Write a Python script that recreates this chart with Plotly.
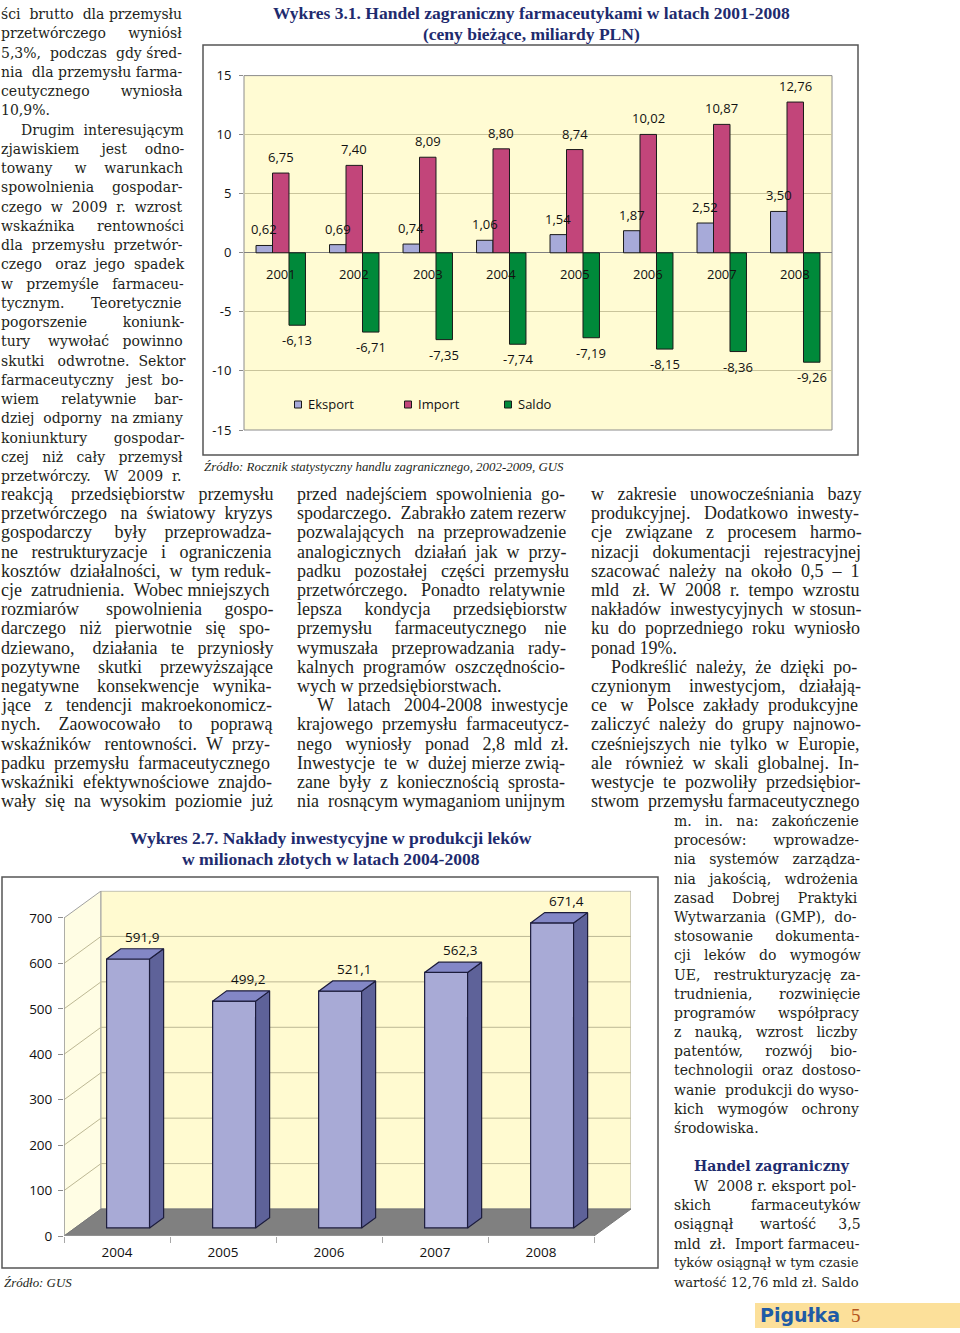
import plotly.graph_objects as go

W, H = 960, 1333


def px(x):
    return x / W


def py(y):
    return 1 - y / H


# --- Wykres 3.1: handel zagraniczny (mld PLN) ---
lata_handel = ["2001", "2002", "2003", "2004", "2005", "2006", "2007", "2008"]
eksport = [0.62, 0.69, 0.74, 1.06, 1.54, 1.87, 2.52, 3.50]
import_ = [6.75, 7.40, 8.09, 8.80, 8.74, 10.02, 10.87, 12.76]
saldo = [-6.13, -6.71, -7.35, -7.74, -7.19, -8.15, -8.36, -9.26]
ticks_handel = [-15, -10, -5, 0, 5, 10, 15]

# --- Wykres 2.7: naklady inwestycyjne (mln zl) ---
lata_inw = ["2004", "2005", "2006", "2007", "2008"]
naklady = [591.9, 499.2, 521.1, 562.3, 671.4]
ticks_inw = [0, 100, 200, 300, 400, 500, 600, 700]

# --- page text ---
blok_a = [
    "ści brutto dla przemysłu", "przetwórczego wyniósł", "5,3%, podczas gdy śred-",
    "nia dla przemysłu farma-", "ceutycznego wyniosła", "10,9%.",
    "Drugim interesującym", "zjawiskiem jest odno-", "towany w warunkach",
    "spowolnienia gospodar-", "czego w 2009 r. wzrost", "wskaźnika rentowności",
    "dla przemysłu przetwór-", "czego oraz jego spadek", "w przemyśle farmaceu-",
    "tycznym. Teoretycznie", "pogorszenie koniunk-", "tury wywołać powinno",
    "skutki odwrotne. Sektor", "farmaceutyczny jest bo-", "wiem relatywnie bar-",
    "dziej odporny na zmiany", "koniunktury gospodar-", "czej niż cały przemysł",
    "przetwórczy. W 2009 r.",
]
blok_b = [
    "reakcją przedsiębiorstw przemysłu", "przetwórczego na światowy kryzys",
    "gospodarczy były przeprowadza-", "ne restrukturyzacje i ograniczenia",
    "kosztów działalności, w tym reduk-", "cje zatrudnienia. Wobec mniejszych",
    "rozmiarów spowolnienia gospo-", "darczego niż pierwotnie się spo-",
    "dziewano, działania te przyniosły", "pozytywne skutki przewyższające",
    "negatywne konsekwencje wynika-", "jące z tendencji makroekonomicz-",
    "nych. Zaowocowało to poprawą", "wskaźników rentowności. W przy-",
    "padku przemysłu farmaceutycznego", "wskaźniki efektywnościowe znajdo-",
    "wały się na wysokim poziomie już",
]
blok_c = [
    "przed nadejściem spowolnienia go-", "spodarczego. Zabrakło zatem rezerw",
    "pozwalających na przeprowadzenie", "analogicznych działań jak w przy-",
    "padku pozostałej części przemysłu", "przetwórczego. Ponadto relatywnie",
    "lepsza kondycja przedsiębiorstw", "przemysłu farmaceutycznego nie",
    "wymuszała przeprowadzania rady-", "kalnych programów oszczędnościo-",
    "wych w przedsiębiorstwach.", "W latach 2004-2008 inwestycje",
    "krajowego przemysłu farmaceutycz-", "nego wyniosły ponad 2,8 mld zł.",
    "Inwestycje te w dużej mierze zwią-", "zane były z koniecznością sprosta-",
    "nia rosnącym wymaganiom unijnym",
]
blok_d = [
    "w zakresie unowocześniania bazy", "produkcyjnej. Dodatkowo inwesty-",
    "cje związane z procesem harmo-", "nizacji dokumentacji rejestracyjnej",
    "szacować należy na około 0,5 – 1", "mld zł. W 2008 r. tempo wzrostu",
    "nakładów inwestycyjnych w stosun-", "ku do poprzedniego roku wyniosło",
    "ponad 19%.", "Podkreślić należy, że dzięki po-",
    "czynionym inwestycjom, działają-", "ce w Polsce zakłady produkcyjne",
    "zaliczyć należy do grupy najnowo-", "cześniejszych nie tylko w Europie,",
    "ale również w skali globalnej. In-", "westycje te pozwoliły przedsiębior-",
    "stwom przemysłu farmaceutycznego",
]
blok_e = [
    "m. in. na: zakończenie", "procesów: wprowadze-", "nia systemów zarządza-",
    "nia jakością, wdrożenia", "zasad Dobrej Praktyki", "Wytwarzania (GMP), do-",
    "stosowanie dokumenta-", "cji leków do wymogów", "UE, restrukturyzację za-",
    "trudnienia, rozwinięcie", "programów współpracy", "z nauką, wzrost liczby",
    "patentów, rozwój bio-", "technologii oraz dostoso-", "wanie produkcji do wyso-",
    "kich wymogów ochrony", "środowiska.",
]
blok_f = [
    "W 2008 r. eksport pol-", "skich farmaceutyków", "osiągnął wartość 3,5",
    "mld zł. Import farmaceu-", "tyków osiągnął w tym czasie", "wartość 12,76 mld zł. Saldo",
]

SANS = "Open Sans"
WIDE = "DejaVu Serif"
NARROW = "Liberation Serif"
INK = "#231F20"
NAVY = "#1E2B6E"

# rough advance widths (em) used to fake justified columns
PL = str.maketrans("ąćęłńóśźżĄĆĘŁŃÓŚŹŻ", "acelnoszzACELNOSZZ")
LOW = "abcdefghijklmnopqrstuvwxyz"
UP = "ABCDEFGHIJKLMNOPQRSTUVWXYZ"
METRICS = {
    NARROW: dict(zip(LOW, [.444, .5, .444, .5, .444, .333, .5, .5, .278, .278, .5, .278, .778,
                           .5, .5, .5, .5, .333, .389, .278, .5, .5, .722, .5, .5, .444]),
                 **dict(zip(UP, [.722, .667, .667, .722, .611, .556, .722, .722, .333, .389, .722,
                                 .611, .889, .722, .722, .556, .722, .667, .556, .611, .722, .722,
                                 .944, .722, .722, .611])),
                 **{d: .5 for d in "0123456789"},
                 **{" ": .25, ".": .25, ",": .25, "-": .333, ":": .278, "%": .833, "–": .5,
                    "(": .333, ")": .333}),
    WIDE: dict(zip(LOW, [.596, .642, .560, .642, .592, .370, .642, .648, .322, .312, .611, .322,
                         .959, .648, .602, .642, .642, .478, .513, .402, .648, .566, .856, .573,
                         .566, .527]),
               **dict(zip(UP, [.722, .735, .765, .802, .730, .694, .799, .872, .395, .401, .747,
                               .664, 1.024, .875, .820, .673, .820, .753, .685, .667, .843, .722,
                               1.028, .712, .660, .695])),
               **{d: .636 for d in "0123456789"},
               **{" ": .318, ".": .318, ",": .318, "-": .338, ":": .337, "%": .950, "–": .5,
                  "(": .390, ")": .390}),
}


def em_width(s, family):
    m = METRICS[family]
    return sum(m.get(ch, .55) for ch in s.translate(PL))


fig = go.Figure()
ann = []
shapes = []


def note(text, x, y, size, family=NARROW, color=INK, xanchor="left", **kw):
    ann.append(dict(text=text, x=px(x), y=py(y), xref="paper", yref="paper",
                    xanchor=xanchor, yanchor="middle", showarrow=False, borderpad=0,
                    font=dict(size=size, family=family, color=color), **kw))


def justify(line, family, size, target, last):
    words = line.split(" ")
    natural = em_width(line, family) * size
    if natural > target:
        return line, size * target / natural
    gaps = len(words) - 1
    if last or gaps == 0:
        return line, size
    sp = METRICS[family][" "] * size
    extra = int(round((target - natural) / sp))
    out = words[0]
    for k, w in enumerate(words[1:]):
        n = 1 + extra // gaps + (1 if k < extra % gaps else 0)
        out += "\u00a0" * n + w
    return out, size


def blok(lines, x0, y0, step, size, family, width, indents=(), finals=()):
    for k, line in enumerate(lines):
        ind = 20 if k in indents else 0
        txt, s = justify(line, family, size, width - ind, k in finals)
        note(txt, x0 + ind, y0 + k * step, s, family)


blok(blok_a, 0, 14, 19.25, 14, WIDE, 183, indents=(6,), finals=(5,))
blok(blok_b, 0, 494, 19.2, 18, NARROW, 271)
blok(blok_c, 296, 494, 19.2, 18, NARROW, 270, indents=(11,), finals=(10,))
blok(blok_d, 590, 494, 19.2, 18, NARROW, 269, indents=(9,), finals=(8,))
blok(blok_e, 673, 821, 19.19, 14, WIDE, 185, finals=(16,))
note("<b>Handel zagraniczny</b>", 693, 1166, 14, WIDE, NAVY)
blok(blok_f, 673, 1186, 19.2, 14, WIDE, 185, indents=(0,))

# ---------------- chart 1 ----------------
kolory = {"Eksport": "#A7AAD9", "Import": "#C2457A", "Saldo": "#00893A"}
for name, vals in [("Eksport", eksport), ("Import", import_), ("Saldo", saldo)]:
    fig.add_trace(go.Bar(x=lata_handel, y=vals, name=name, xaxis="x", yaxis="y",
                         marker=dict(color=kolory[name], line=dict(color="#1A1A1A", width=1)),
                         showlegend=False, hoverinfo="skip"))

bar_px = 16.5
for shift, vals in [(-bar_px, eksport), (0, import_), (bar_px, saldo)]:
    for k, v in enumerate(vals):
        ann.append(dict(text=f"{v:.2f}".replace(".", ","), x=k, y=v, xref="x", yref="y",
                        xshift=shift, yshift=5 if v > 0 else -4,
                        yanchor="bottom" if v > 0 else "top", showarrow=False,
                        font=dict(size=13, family=SANS, color="#111")))
for k, year in enumerate(lata_handel):
    ann.append(dict(text=year, x=k, y=0, xref="x", yref="y", yanchor="top", yshift=-10,
                    showarrow=False, font=dict(size=13, family=SANS, color="#111")))

shapes.append(dict(type="rect", xref="x domain", yref="y domain", x0=0, x1=1, y0=0, y1=1,
                   fillcolor="#FFFBD3", line=dict(color="#8C8C8C", width=1), layer="below"))

# legend
for (name, col), sx in zip(kolory.items(), [298, 408, 508]):
    shapes.append(dict(type="rect", xref="paper", yref="paper",
                       x0=px(sx - 3.5), x1=px(sx + 3.5), y0=py(408), y1=py(401),
                       fillcolor=col, line=dict(color="#1A1A1A", width=1)))
    note(name, sx + 9, 404.5, 13, SANS, "#111")

# titles and frames
note("<b>Wykres 3.1. Handel zagraniczny farmaceutykami w latach 2001-2008</b>",
     531, 13, 17.5, NARROW, NAVY, xanchor="center")
note("<b>(ceny bieżące, miliardy PLN)</b>", 531, 34, 17.5, NARROW, NAVY, xanchor="center")
note("<i>Źródło: Rocznik statystyczny handlu zagranicznego, 2002-2009, GUS</i>",
     203, 467, 12.9, NARROW)
shapes.append(dict(type="rect", xref="paper", yref="paper", x0=px(203), x1=px(858),
                   y0=py(455), y1=py(45), line=dict(color="#555", width=1.5)))

# ---------------- chart 2 (pseudo 3D) ----------------
DX, DY = 0.349, 59.4       # depth of the walls in axis units
D, BD, BW = 0.30, 0.38, 0.405  # bar depth position, bar depth, bar width
GRID = "#BDB894"
x_lo, x_hi = -0.5, len(naklady) - 0.5


def poly(pts):
    return "M " + " L ".join(f"{a},{b}" for a, b in pts) + " Z"


shapes += [
    dict(type="path", xref="x2", yref="y2", layer="below", fillcolor="#FFFDE4",
         line=dict(color="#A0A0A0", width=1),
         path=poly([(x_lo, 0), (x_lo + DX, DY), (x_lo + DX, 700 + DY), (x_lo, 700)])),
    dict(type="path", xref="x2", yref="y2", layer="below", fillcolor="#FFFAD0",
         line=dict(color="#A0A0A0", width=1),
         path=poly([(x_lo + DX, DY), (x_hi + DX, DY), (x_hi + DX, 700 + DY), (x_lo + DX, 700 + DY)])),
    dict(type="path", xref="x2", yref="y2", layer="below", fillcolor="#808080",
         line=dict(color="#777", width=1),
         path=poly([(x_lo, 0), (x_hi, 0), (x_hi + DX, DY), (x_lo + DX, DY)])),
]
for v in ticks_inw[1:-1]:
    shapes.append(dict(type="line", xref="x2", yref="y2", layer="below",
                       x0=x_lo + DX, x1=x_hi + DX, y0=v + DY, y1=v + DY,
                       line=dict(color=GRID, width=1)))
    shapes.append(dict(type="line", xref="x2", yref="y2", layer="below",
                       x0=x_lo, x1=x_lo + DX, y0=v, y1=v + DY,
                       line=dict(color=GRID, width=1)))
shapes.append(dict(type="line", xref="x2", yref="y2", x0=x_lo, x1=x_lo, y0=0, y1=700,
                   line=dict(color="#8C8C8C", width=1)))
shapes.append(dict(type="line", xref="x2", yref="y2", x0=x_lo, x1=x_hi, y0=0, y1=0,
                   line=dict(color="#A8A8A8", width=1)))

xs = [i + D * DX for i in range(len(naklady))]
fig.add_trace(go.Bar(x=xs, y=naklady, base=D * DY, width=BW, xaxis="x2", yaxis="y2",
                     marker=dict(color="#A8AAD6", line=dict(color="#1C1C3C", width=1.2)),
                     showlegend=False, hoverinfo="skip"))
for xc, v in zip(xs, naklady):
    xl, xr = xc - BW / 2, xc + BW / 2
    yb, yt = D * DY, v + D * DY
    ox, oy = BD * DX, BD * DY
    side = [(xr, yb), (xr + ox, yb + oy), (xr + ox, yt + oy), (xr, yt), (xr, yb)]
    top = [(xl, yt), (xr, yt), (xr + ox, yt + oy), (xl + ox, yt + oy), (xl, yt)]
    for pts, col in [(side, "#5E6299"), (top, "#8387C6")]:
        fig.add_trace(go.Scatter(x=[p[0] for p in pts], y=[p[1] for p in pts],
                                 xaxis="x2", yaxis="y2", mode="lines", fill="toself",
                                 fillcolor=col, line=dict(color="#1C1C3C", width=1.2),
                                 showlegend=False, hoverinfo="skip"))
    ann.append(dict(text=f"{v:.1f}".replace(".", ","), x=xc + ox, y=yt + oy,
                    xref="x2", yref="y2", yanchor="bottom", yshift=1, showarrow=False,
                    font=dict(size=13.5, family=SANS, color="#111")))

note("<b>Wykres 2.7. Nakłady inwestycyjne w produkcji leków</b>", 331, 838, 17.6, NARROW,
     NAVY, xanchor="center")
note("<b>w milionach złotych w latach 2004-2008</b>", 331, 859, 17.6, NARROW, NAVY,
     xanchor="center")
note("<i>Źródło: GUS</i>", 3, 1283, 12.9, NARROW)
shapes.append(dict(type="rect", xref="paper", yref="paper", x0=px(2), x1=px(658),
                   y0=py(1268), y1=py(877), line=dict(color="#555", width=1.5)))

# footer
shapes.append(dict(type="rect", xref="paper", yref="paper", x0=px(755), x1=px(960),
                   y0=py(1328), y1=py(1303), fillcolor="#FCE09A", line=dict(width=0)))
note("<b>Pigułka</b>", 759, 1315, 19, "DejaVu Sans", "#1F5BA6")
note("5", 850, 1315, 19, NARROW, "#B5561D")

fig.update_layout(
    width=W, height=H, margin=dict(l=0, r=0, t=0, b=0, autoexpand=False),
    paper_bgcolor="white", plot_bgcolor="rgba(0,0,0,0)",
    barmode="group", bargap=0.327, bargroupgap=0,
    xaxis=dict(domain=[px(244), px(832)], anchor="y", type="category", visible=False,
               range=[-0.5, len(lata_handel) - 0.5]),
    yaxis=dict(domain=[py(430), py(75.6)], anchor="x", range=[-15, 15], tickvals=ticks_handel,
               ticktext=[str(t) for t in ticks_handel],
               gridcolor="#C9C49B", zeroline=True, zerolinecolor="#808080", zerolinewidth=1,
               ticks="outside", ticklen=4, tickcolor="#8C8C8C", ticklabelstandoff=5,
               tickfont=dict(size=13, family=SANS, color="#111")),
    xaxis2=dict(domain=[px(64), px(631)], anchor="y2", range=[x_lo, x_hi + DX],
                tickvals=list(range(len(lata_inw))), ticktext=lata_inw, ticks="",
                showgrid=False, zeroline=False, showline=False, ticklabelstandoff=6,
                tickfont=dict(size=13.5, family=SANS, color="#111"),
                minor=dict(tickvals=[x_lo + k for k in range(len(naklady) + 1)],
                           ticks="outside", ticklen=6, tickcolor="#A8A8A8")),
    yaxis2=dict(domain=[py(1236), py(1236 - 760 * 0.4543)], anchor="x2", range=[0, 760],
                tickvals=ticks_inw, ticks="outside", ticklen=5, tickcolor="#8C8C8C",
                showgrid=False, zeroline=False, showline=False, ticklabelstandoff=3,
                tickfont=dict(size=13.5, family=SANS, color="#111")),
    annotations=ann, shapes=shapes,
)

# page body has a default 8px margin; drop it so the figure sits at the page corner
fig.write_html("out.html", config={"displayModeBar": False},
               post_script="document.body.style.margin='0';")
